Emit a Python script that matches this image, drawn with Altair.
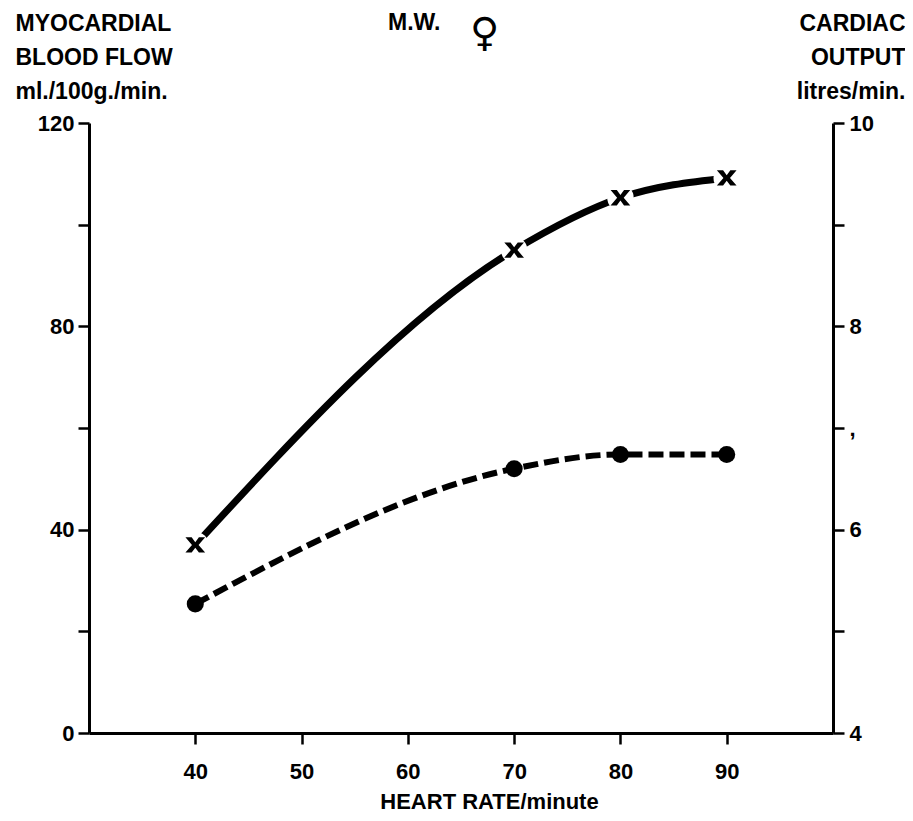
import altair as alt
import pandas as pd

heart_rate = [40, 70, 80, 90]
blood_flow = [37.0, 95.0, 105.3, 109.2]
cardiac_output = [5.27, 6.60, 6.74, 6.74]

left_ticks = [0, 20, 40, 60, 80, 100, 120]
right_ticks = [4, 5, 6, 7, 8, 9, 10]
x_ticks = [40, 50, 60, 70, 80, 90]

df = pd.DataFrame({"hr": heart_rate, "mbf": blood_flow, "co": cardiac_output})

FONT = "Liberation Sans"
FS = 23
LFS = 22

x_enc = alt.X(
    "hr:Q",
    scale=alt.Scale(domain=[30, 100], nice=False, zero=False),
    axis=alt.Axis(
        values=x_ticks,
        title="HEART RATE/minute",
        titleX=400,
        titleY=68,
        titleBaseline="middle",
        titleFont=FONT,
        titleFontSize=22,
        titleFontWeight="bold",
        titleColor="black",
        labelPadding=17,
        grid=False,
    ),
)

y_left = alt.Y(
    "mbf:Q",
    scale=alt.Scale(domain=[0, 120], nice=False),
    axis=alt.Axis(
        orient="left",
        values=left_ticks,
        labelExpr="datum.value % 40 == 0 ? datum.label : ''",
        title=["MYOCARDIAL", "BLOOD FLOW", "ml./100g./min."],
        titleAngle=0,
        titleAlign="left",
        titleBaseline="top",
        titleX=-74,
        titleY=-111,
        titleLineHeight=34,
        titleFont=FONT,
        titleFontSize=FS,
        titleFontWeight="bold",
        titleColor="black",
        labelPadding=4,
        grid=False,
    ),
)

y_right = alt.Y(
    "co:Q",
    scale=alt.Scale(domain=[4, 10], nice=False, zero=False),
    axis=alt.Axis(
        orient="right",
        values=right_ticks,
        labelExpr="datum.value == 7 ? ',' : (datum.value % 2 == 0 ? datum.label : '')",
        title=["CARDIAC", "OUTPUT", "litres/min."],
        titleAngle=0,
        titleAlign="right",
        titleBaseline="top",
        titleX=72,
        titleY=-111,
        titleLineHeight=34,
        titleFont=FONT,
        titleFontSize=FS,
        titleFontWeight="bold",
        titleColor="black",
        labelPadding=5,
        grid=False,
    ),
)

base = alt.Chart(df)

x_shape = ("M-0.9,-0.7 L-0.33,-0.7 L0,-0.25 L0.33,-0.7 L0.9,-0.7 L0.3,0 L0.9,0.7 "
           "L0.33,0.7 L0,0.25 L-0.33,0.7 L-0.9,0.7 L-0.3,0 Z")

line1 = base.mark_line(color="black", strokeWidth=7, interpolate="monotone").encode(x=x_enc, y=y_left)
halo = base.mark_point(shape="circle", filled=True, color="white", opacity=1, size=700).encode(x=x_enc, y=y_left)
xmarks = base.mark_point(shape=x_shape, filled=True, color="black", opacity=1, size=480).encode(x=x_enc, y=y_left)
left = alt.layer(line1, halo, xmarks)

line2 = base.mark_line(color="black", strokeWidth=6, strokeDash=[15, 6], interpolate="monotone").encode(x=x_enc, y=y_right)
dots = base.mark_point(shape="circle", filled=True, color="black", opacity=1, size=290).encode(x=x_enc, y=y_right)
right = alt.layer(line2, dots)

ann_df = pd.DataFrame({"t": ["M.W."]})
mw = alt.Chart(ann_df).mark_text(
    font=FONT, fontSize=23, fontWeight="bold", color="black", align="left", baseline="alphabetic"
).encode(text="t:N", x=alt.value(299), y=alt.value(-93))
sym_df = pd.DataFrame({"t": ["♀"]})
sym = alt.Chart(sym_df).mark_text(
    font="DejaVu Sans", fontSize=40, color="black", align="left", baseline="alphabetic"
).encode(text="t:N", x=alt.value(381), y=alt.value(-77))

chart = (
    alt.layer(left, right, mw, sym)
    .resolve_scale(y="independent")
    .properties(
        width=744,
        height=610,
        autosize=alt.AutoSizeParams(type="none"),
        padding={"left": 81, "top": 115, "right": 72, "bottom": 80},
        background="white",
    )
    .configure_view(stroke=None)
    .configure_axis(
        domainColor="black",
        domainWidth=3,
        tickColor="black",
        tickWidth=2.5,
        tickSize=11,
        labelFont=FONT,
        labelFontSize=LFS,
        labelFontWeight="bold",
        labelColor="black",
    )
)

chart.save("out.html", embed_options={"renderer": "svg", "actions": False})
